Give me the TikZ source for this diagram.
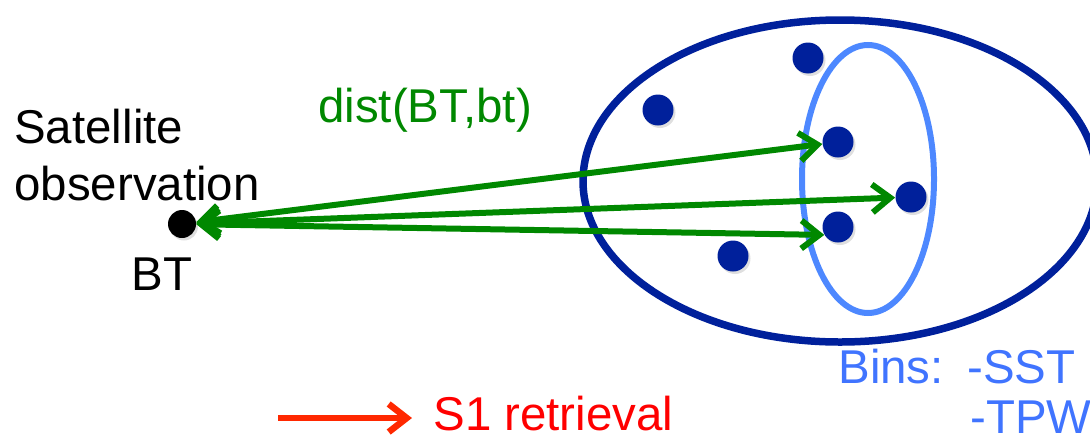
\documentclass[tikz,border=0pt]{standalone}
\usepackage{xcolor}
\usepackage{fontspec}
\setmainfont{Liberation Sans}
\usepackage{tikz}
\usetikzlibrary{arrows.meta}
\usetikzlibrary{shadows}
\definecolor{dotblue}{RGB}{0,32,155}
\definecolor{binblue}{RGB}{77,136,255}
\definecolor{bintext}{RGB}{64,116,255}
\definecolor{distgreen}{RGB}{0,136,0}
\definecolor{keyred}{RGB}{255,40,0}
\tikzset{
	sample/.style={circle,fill=dotblue,minimum size=0.62cm,inner sep=0pt,
		drop shadow={shadow xshift=0.04cm,shadow yshift=-0.05cm,opacity=0.25}},
	distarrow/.style={distgreen,line width=0.12cm,
		{Straight Barb[length=0.36cm,width=0.56cm]}-{Straight Barb[length=0.36cm,width=0.56cm]}},
	bigtext/.style={inner sep=0pt,font=\fontsize{27}{32.4}\selectfont}
}

\begin{document}
\begin{tikzpicture}
	\useasboundingbox (0,0) rectangle (21.8,8.82);
	% ensemble and bin
	\draw[dotblue,line width=0.15cm] (16.8,5.2) ellipse (5.14 and 3.22);
	\draw[binblue,line width=0.12cm] (17.36,5.24) ellipse (1.32 and 2.68);
	% simulated bt
	\node[sample] (s1) at (16.16,7.66) {};
	\node[sample] (s2) at (13.16,6.62) {};
	\node[sample] (s3) at (16.76,5.98) {};
	\node[sample] (s4) at (18.22,4.88) {};
	\node[sample] (s5) at (16.76,4.28) {};
	\node[sample] (s6) at (14.66,3.70) {};
	% observed BT
	\node[circle,fill=black,minimum size=0.56cm,inner sep=0pt,
		drop shadow={shadow xshift=0.04cm,shadow yshift=-0.05cm,opacity=0.25}] (bt) at (3.64,4.34) {};
	\draw[distarrow] (bt) -- (s3);
	\draw[distarrow] (bt) -- (s4);
	\draw[distarrow] (bt) -- (s5.210);
	\node[bigtext,anchor=base west,align=left] (sat) at (0.28,4.82) {Satellite\\observation};
	\node[bigtext,anchor=base] (btname) at (3.24,3.02) {BT};
	\node[bigtext,anchor=base west,text=distgreen] (dist) at (6.36,6.38) {dist(BT,bt)};
	% key
	\node[bigtext,anchor=base west,text=red] (retr) at (8.66,0.22) {S1 retrieval};
	\coordinate (keytail) at (5.56,0.46);
	\draw[keyred,line width=0.13cm,-{Straight Barb[length=0.36cm,width=0.56cm]}] (keytail) -- ([xshift=-0.42cm]keytail -| retr.west);
	\node[bigtext,anchor=base west,text=bintext] (bins) at (16.76,1.16) {Bins:};
	\node[bigtext,anchor=base west,text=bintext] (sst) at (19.34,1.16) {-SST};
	\node[bigtext,anchor=base west,text=bintext] (tpw) at (19.40,0.16) {-TPW};
\end{tikzpicture}
\end{document}
